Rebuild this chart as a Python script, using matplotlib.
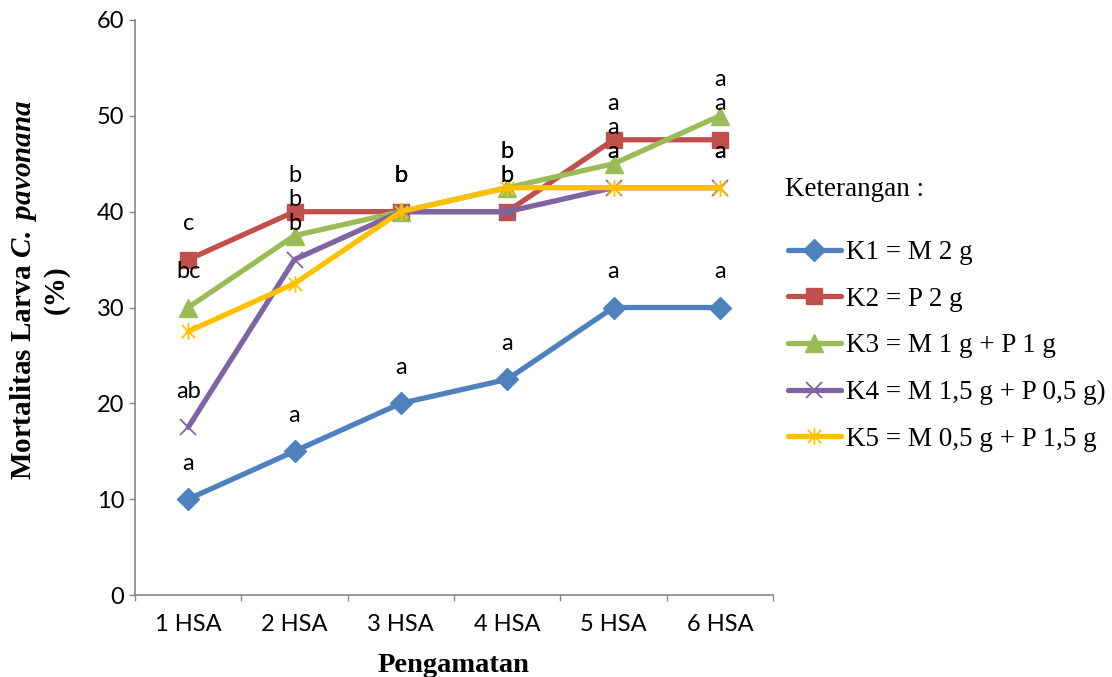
import matplotlib
matplotlib.use('Agg')
import matplotlib.pyplot as plt
from matplotlib.path import Path
import numpy as np

categories = ['1 HSA', '2 HSA', '3 HSA', '4 HSA', '5 HSA', '6 HSA']
series_names = ['K1 = M 2 g', 'K2 = P 2 g', 'K3 = M 1 g + P 1 g',
                'K4 = M 1,5 g + P 0,5 g)', 'K5 = M 0,5 g + P 1,5 g']
k1 = [10, 15, 20, 22.5, 30, 30]
k2 = [35, 40, 40, 40, 47.5, 47.5]
k3 = [30, 37.5, 40, 42.5, 45, 50]
k4 = [17.5, 35, 40, 40, 42.5, 42.5]
k5 = [27.5, 32.5, 40, 42.5, 42.5, 42.5]
lab_k1 = ['a', 'a', 'a', 'a', 'a', 'a']
lab_k2 = ['c', 'b', 'b', 'b', 'a', 'a']
lab_k3 = ['bc', 'b', 'b', 'b', 'a', 'a']
lab_k4 = ['ab', 'b', 'b', 'b', 'a', 'a']
lab_k5 = ['', '', 'b', 'b', 'a', 'a']
y_ticks = [0, 10, 20, 30, 40, 50, 60]

plt.rcParams['mathtext.fontset'] = 'custom'
plt.rcParams['mathtext.rm'] = 'Liberation Serif:bold'
plt.rcParams['mathtext.bf'] = 'Liberation Serif:bold'
plt.rcParams['mathtext.it'] = 'Liberation Serif:italic:bold'

star = Path([(0, -1), (0, 1), (-0.8, -0.8), (0.8, 0.8), (-0.8, 0.8), (0.8, -0.8)],
            [Path.MOVETO, Path.LINETO, Path.MOVETO, Path.LINETO, Path.MOVETO, Path.LINETO])

colors = ['#4F81BD', '#C0504D', '#9BBB59', '#8064A2', '#FFC000']
markers = ['D', 's', '^', 'x', star]
msizes = [11, 12, 13, 11, 12]
mews = [1, 1, 1, 1.3, 1.3]
values = [k1, k2, k3, k4, k5]
labels = [lab_k1, lab_k2, lab_k3, lab_k4, lab_k5]

tick_font = 'Lato'
tick_size = 17
serif = 'Liberation Serif'

fig = plt.figure(figsize=(11.12, 6.77), dpi=100)
ax = fig.add_axes([135 / 1112, 1 - 595 / 677, (773 - 135) / 1112, (595 - 20) / 677])

x = np.arange(len(categories))
handles = []
for vals, c, m, ms, mew, name in zip(values, colors, markers, msizes, mews, series_names):
    h, = ax.plot(x, vals, color=c, lw=3.8, marker=m, markersize=ms,
                 markerfacecolor=c, markeredgecolor=c, markeredgewidth=mew,
                 solid_capstyle='round', solid_joinstyle='round', label=name, clip_on=False)
    handles.append(h)

for vals, labs in zip(values, labels):
    for i, (v, t) in enumerate(zip(vals, labs)):
        if t:
            ax.annotate(t, (i, v), xytext=(0, 26), textcoords='offset points',
                        ha='center', va='center', fontsize=tick_size, family=tick_font,
                        color='black')

ax.set_xlim(-0.5, len(categories) - 0.5)
ax.set_ylim(0, 60)
ax.set_yticks(y_ticks)
ax.set_yticklabels([str(v) for v in y_ticks], fontsize=tick_size, family=tick_font)
ax.set_xticks(np.arange(-0.5, len(categories), 1))
ax.set_xticklabels([])
ax.set_xticks(x, minor=True)
ax.set_xticklabels(categories, minor=True, fontsize=tick_size, family=tick_font)
ax.tick_params(axis='x', which='major', length=4.3, width=1, color='#868686', direction='out')
ax.tick_params(axis='x', which='minor', length=0, pad=14)
ax.tick_params(axis='y', length=4.3, width=1, color='#868686', direction='out', pad=3.5)
for s in ['top', 'right']:
    ax.spines[s].set_visible(False)
for s in ['left', 'bottom']:
    ax.spines[s].set_color('#868686')
    ax.spines[s].set_linewidth(1.2)

ax.set_xlabel('Pengamatan', family=serif, fontweight='bold', fontsize=20.5)
ax.xaxis.set_label_coords(0.5, (595 - 665) / 575)
ax.xaxis.label.set_verticalalignment('center')

fig.text(24 / 1112, 1 - 290 / 677, r'$\mathbf{Mortalitas\ Larva}\ \mathit{C.\ pavonana}$',
         rotation=90, ha='center', va='center', fontsize=21)
fig.text(56 / 1112, 1 - 290 / 677, '(%)', rotation=90, ha='center', va='center',
         fontsize=21, family=serif, fontweight='bold')

fig.text(785 / 1112, 1 - 190 / 677, 'Keterangan :', family=serif, fontsize=19.5,
         ha='left', va='center')

fig.legend(handles=handles, loc='upper left', bbox_to_anchor=(788 / 1112, 1 - 240 / 677),
           frameon=False, prop={'family': serif, 'size': 19.5}, borderpad=0,
           borderaxespad=0, handlelength=1.95, handletextpad=0.2, labelspacing=0.8,
           markerscale=1.0)

fig.savefig('out.png', dpi=100)
